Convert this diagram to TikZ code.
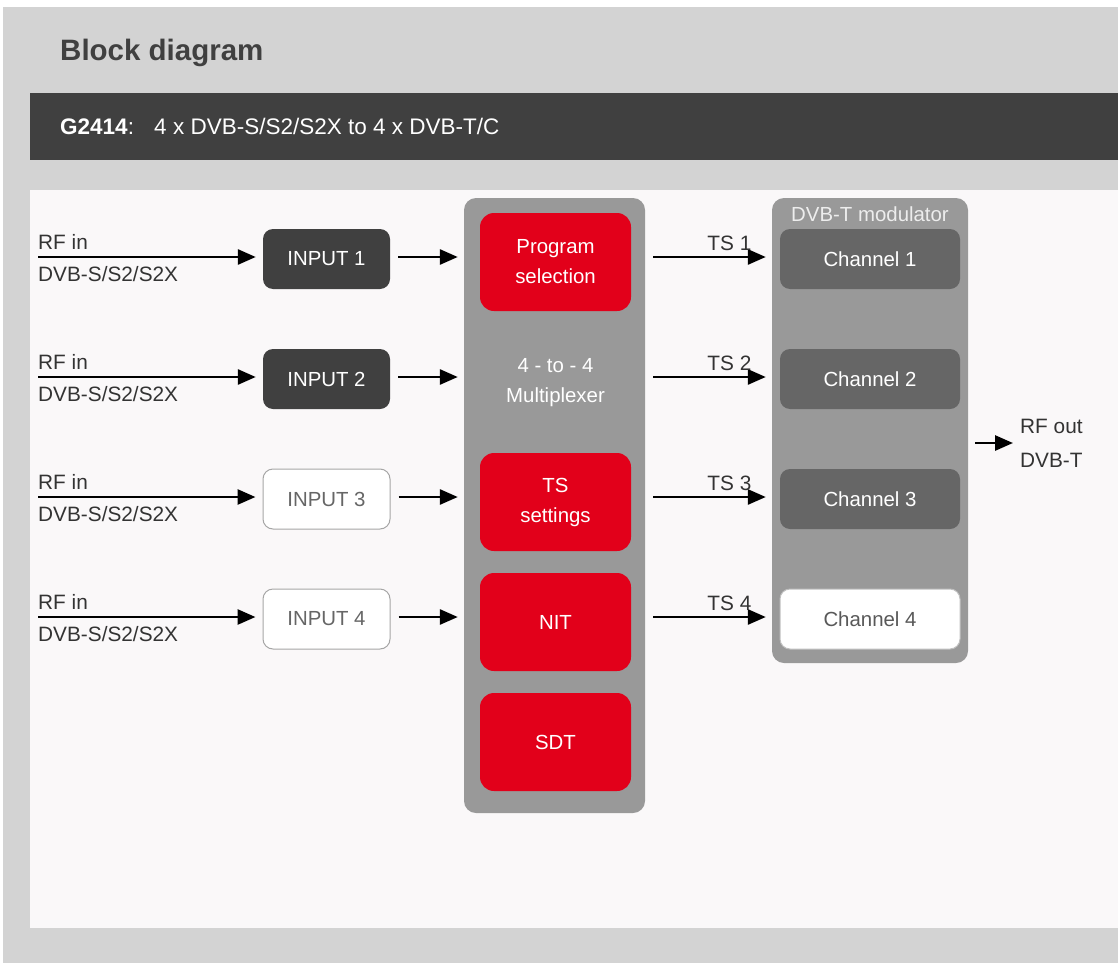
\documentclass[tikz,border=0pt]{standalone}
\usepackage{fontspec}
\setmainfont{Liberation Sans}
\usepackage{xcolor}
\usetikzlibrary{arrows.meta}
\definecolor{pagegray}{HTML}{D3D3D3}
\definecolor{bardark}{HTML}{404040}
\definecolor{panelwhite}{HTML}{FAF8F9}
\definecolor{framegray}{HTML}{999999}
\definecolor{changray}{HTML}{666666}
\definecolor{gredred}{HTML}{E2001A}
\definecolor{labelgray}{HTML}{333333}
\newcommand{\blockfont}{\fontsize{20.4}{30}\selectfont}
\newcommand{\sidefont}{\fontsize{20.8}{30}\selectfont}
\tikzstyle{frame} = [rectangle, fill=framegray, rounded corners=12pt, inner sep=0pt]
\tikzstyle{inbox} = [rectangle, rounded corners=10pt, minimum width=127pt,
minimum height=60pt, font=\blockfont, inner sep=0pt]
\tikzstyle{darkbox} = [inbox, fill=bardark, text=white]
\tikzstyle{lightbox} = [inbox, fill=white, draw=black!35, line width=1pt, text=black!60]
\tikzstyle{redbox} = [rectangle, rounded corners=14pt, fill=gredred, text=white,
minimum width=151pt, minimum height=98pt, font=\blockfont, align=center, inner sep=0pt]
\tikzstyle{chanbox} = [rectangle, rounded corners=10pt, minimum width=180pt,
minimum height=60pt, font=\blockfont, inner sep=0pt, fill=changray, text=white]
\tikzstyle{chanlight} = [chanbox, fill=white, draw=black!25, line width=1pt, text=black!65]
\tikzstyle{sigarrow} = [draw=black, line width=2.8pt, -{Triangle[length=18pt,width=15pt]}]
\tikzstyle{sidetext} = [font=\sidefont, text=labelgray, inner sep=0pt, anchor=base west]

\begin{document}
\begin{tikzpicture}[x=1pt,y=-1pt]
    \useasboundingbox (0,0) rectangle (1118,963);
    \fill[white] (0,0) rectangle (1118,963);
    \fill[pagegray] (3,7) rectangle (1118,963);
    \node[anchor=base west, inner sep=0pt, text=bardark,
        font=\bfseries\fontsize{29.5}{34}\selectfont] (title) at (60,61) {Block diagram};
    \fill[bardark] (30,93) rectangle (1118,160);
    \node[anchor=base west, inner sep=0pt, text=white,
        font=\fontsize{22.5}{26}\selectfont] (subtitle) at (60,135)
        {\textbf{G2414}:\hspace{0.9em}4 x DVB-S/S2/S2X to 4 x DVB-T/C};
    \fill[panelwhite] (30,190) rectangle (1118,928);

    % multiplexer column
    \node[frame, minimum width=181pt, minimum height=615pt] (mux) at (554.5,505.5) {};
    \node[redbox] (prog) at (555.5,262) {Program\\selection};
    \node[font=\blockfont, text=white, align=center] (muxlabel) at (555.5,383) {4 - to - 4\\Multiplexer};
    \node[redbox] (tsset) at (555.5,502) {TS\\settings};
    \node[redbox] (nit) at (555.5,622) {NIT};
    \node[redbox] (sdt) at (555.5,742) {SDT};

    % modulator column
    \node[frame, minimum width=196pt, minimum height=465pt] (mod) at (870,430.5) {};
    \node[font=\blockfont, text=white!93!black] (modtitle) at (870,214) {DVB-T modulator};

    \foreach \i/\y/\s/\c in {1/259/darkbox/chanbox,2/379/darkbox/chanbox,
        3/499/lightbox/chanbox,4/619/lightbox/chanlight} {
        \node[\s] (in\i) at (326.5,\y) {INPUT \i};
        \node[\c] (ch\i) at (870,\y) {Channel \i};
        \coordinate (rf\i) at (38,\y-2);
        \node[sidetext] (rfin\i) at (38,\y-10) {RF in};
        \node[sidetext] (rftype\i) at (38,\y+22) {DVB-S/S2/S2X};
        \draw[sigarrow, shorten >=7pt] (rf\i) -- (in\i.west |- rf\i);
        \draw[sigarrow, shorten <=8pt, shorten >=6pt] (in\i.east |- rf\i) -- (mux.west |- rf\i);
        \draw[sigarrow, shorten <=8pt, shorten >=6pt] (mux.east |- rf\i) -- (mod.west |- rf\i)
            node[at end, anchor=south east, inner sep=0pt, xshift=-19pt, yshift=5pt,
            font=\sidefont, text=labelgray] (ts\i) {TS \i};
    }

    \coordinate (rfout) at (1013,443);
    \draw[sigarrow, shorten <=7pt] (mod.east |- rfout) -- (rfout);
    \node[sidetext] (rfoutlabel) at (1020,433) {RF out};
    \node[sidetext] (rfouttype) at (1020,467) {DVB-T};
\end{tikzpicture}
\end{document}
